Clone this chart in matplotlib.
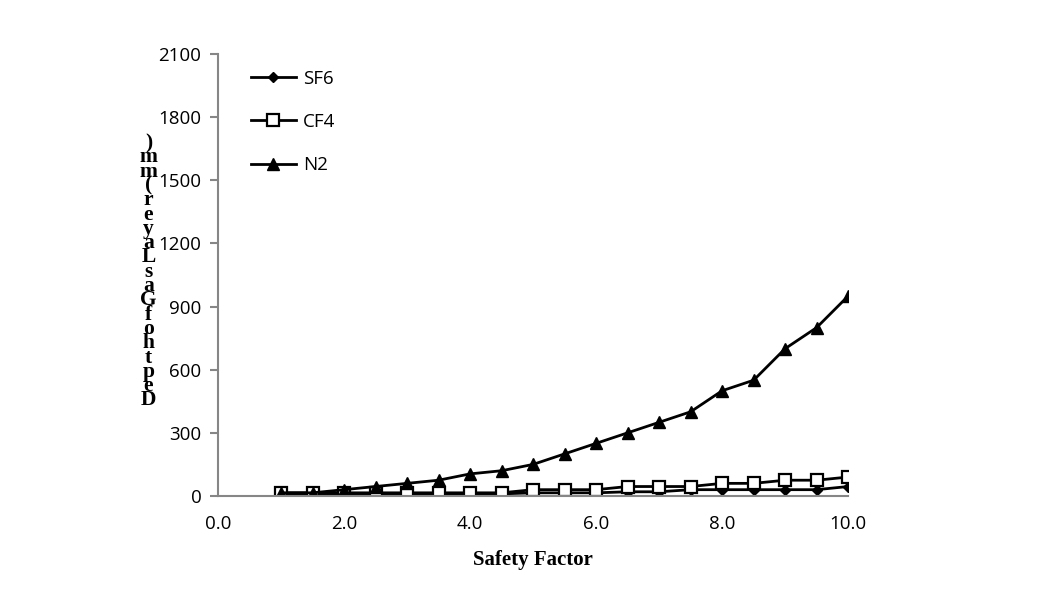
import numpy as np
import matplotlib.pyplot as plt

# Data
safety_factor = [1.0, 1.5, 2.0, 2.5, 3.0, 3.5, 4.0, 4.5, 5.0, 5.5,
                 6.0, 6.5, 7.0, 7.5, 8.0, 8.5, 9.0, 9.5, 10.0]
sf6 = [10, 10, 10, 10, 10, 10, 10, 10, 15, 15,
       15, 20, 20, 30, 30, 30, 30, 30, 45]
cf4 = [15, 15, 15, 15, 15, 15, 15, 15, 30, 30,
       30, 45, 45, 45, 60, 60, 75, 75, 90]
n2 = [15, 15, 30, 45, 60, 75, 105, 120, 150, 200,
      250, 300, 350, 400, 500, 550, 700, 800, 950]

ylabel = "Depth of Gas Layer (mm)"

fig = plt.figure(figsize=(10.45, 5.96), dpi=100)
ax = fig.add_axes([0.2086, 0.1678, 0.603, 0.7416])

ax.plot(safety_factor, sf6, color='black', lw=2, marker='D', ms=5,
        mfc='black', label='SF6')
ax.plot(safety_factor, cf4, color='black', lw=2, marker='s', ms=9,
        mfc='white', mew=1.6, label='CF4')
ax.plot(safety_factor, n2, color='black', lw=2, marker='^', ms=8,
        mfc='black', label='N2')

ax.set_xlim(0, 10)
ax.set_ylim(0, 2100)
ax.set_xticks(np.arange(0, 10.1, 2))
ax.set_xticklabels([f"{v:.1f}" for v in np.arange(0, 10.1, 2)])
ax.set_yticks(np.arange(0, 2101, 300))

for s in ['top', 'right']:
    ax.spines[s].set_visible(False)
for s in ['left', 'bottom']:
    ax.spines[s].set_color('#868686')
    ax.spines[s].set_linewidth(1.5)
ax.tick_params(axis='y', direction='out', length=6, color='#868686',
               width=1.5, labelsize=13.5, pad=6)
ax.tick_params(axis='x', direction='out', length=0, labelsize=13.5, pad=14)
for lbl in ax.get_xticklabels() + ax.get_yticklabels():
    lbl.set_family('Open Sans')

ax.set_xlabel('Safety Factor', fontsize=15, fontweight='bold',
              family='Liberation Serif', labelpad=12)

# stacked y-axis label, characters reversed top to bottom
chars = [c for c in ylabel[::-1] if c != ' ']
fig.text(0.142, 0.544, "\n".join(chars), fontsize=15.5, fontweight='bold',
         family='Liberation Serif', ha='center', va='center',
         linespacing=0.62)

ax.legend(loc='upper left', bbox_to_anchor=(0.025, 1.003), frameon=False,
          handlelength=2.4, labelspacing=1.35, handletextpad=0.4,
          prop={'family': 'Open Sans', 'size': 13.5})

fig.savefig('out.png', dpi=100)
